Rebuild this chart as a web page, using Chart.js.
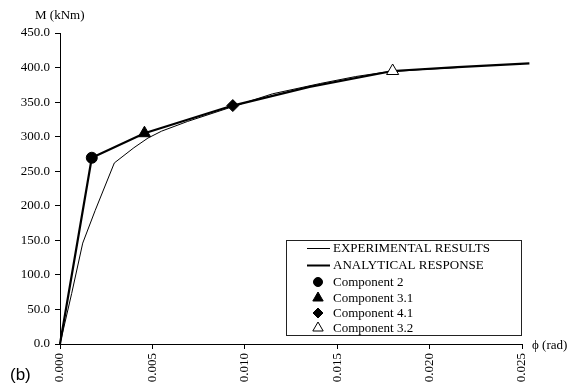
<!DOCTYPE html>
<html>
<head>
<meta charset="utf-8">
<title>Moment–curvature response</title>
<script src="https://cdn.jsdelivr.net/npm/chart.js@4/dist/chart.umd.min.js"></script>
<style>
  html, body { margin: 0; padding: 0; background: #fff; }
  #wrap { width: 581px; height: 388px; }
</style>
</head>
<body>
<div id="wrap"><canvas id="chart" width="581" height="388"></canvas></div>
<script>
// Experimental moment–curvature curve (φ in rad, M in kNm)
const expPhi = [0, 0.00063, 0.00123, 0.0019, 0.00294, 0.0040, 0.00476, 0.0055, 0.0069, 0.0093, 0.0115, 0.0141, 0.0160, 0.0175, 0.0195, 0.0215];
const expM   = [0, 73, 146, 193, 262, 284, 298, 308, 322, 343, 362, 377, 387, 393, 397, 400];

// Analytical response
const anaPhi = [0, 0.00172, 0.00457, 0.00935, 0.0135, 0.0180, 0.0215, 0.0254];
const anaM   = [0, 269.5, 305, 345, 372, 395, 400.5, 406];

// Component milestones on the analytical curve [φ, M]
const comp2  = [0.00172, 269.5];
const comp31 = [0.00457, 305];
const comp41 = [0.00935, 345];
const comp32 = [0.0180, 395];

// Axis ranges / ticks
const xTicks = [0, 0.005, 0.010, 0.015, 0.020, 0.025];
const yTicks = [0, 50, 100, 150, 200, 250, 300, 350, 400, 450];

const labels = {
  exp: 'EXPERIMENTAL RESULTS',
  ana: 'ANALYTICAL RESPONSE',
  c2: 'Component 2',
  c31: 'Component 3.1',
  c41: 'Component 4.1',
  c32: 'Component 3.2'
};

const toXY = (xs, ys) => xs.map((x, i) => ({ x, y: ys[i] }));
const SERIF = '"Liberation Serif", "Times New Roman", serif';

// small legend glyphs matching the plotted point styles
function marker(ctx, style, x, y, r, fill) {
  ctx.save();
  ctx.beginPath();
  if (style === 'circle') {
    ctx.arc(x, y, r, 0, Math.PI * 2);
  } else if (style === 'triangle') {
    ctx.moveTo(x, y - r);
    ctx.lineTo(x + r * 0.866, y + r * 0.5);
    ctx.lineTo(x - r * 0.866, y + r * 0.5);
    ctx.closePath();
  } else if (style === 'rectRot') {
    ctx.moveTo(x, y - r);
    ctx.lineTo(x + r, y);
    ctx.lineTo(x, y + r);
    ctx.lineTo(x - r, y);
    ctx.closePath();
  }
  ctx.fillStyle = fill;
  ctx.fill();
  ctx.lineWidth = 1;
  ctx.strokeStyle = '#000';
  ctx.stroke();
  ctx.restore();
}

const decor = {
  id: 'decor',
  afterDraw(chart) {
    const ctx = chart.ctx;
    ctx.save();
    ctx.fillStyle = '#000';
    ctx.font = '13px ' + SERIF;
    ctx.textBaseline = 'middle';
    ctx.textAlign = 'left';
    ctx.fillText('M (kNm)', 35, 16);
    ctx.fillText('\u03D5 (rad)', 532, 346);

    ctx.font = '17px "Liberation Sans", Arial, sans-serif';
    ctx.textBaseline = 'alphabetic';
    ctx.fillText('(b)', 10, 380);

    // legend box
    const bx = 286.5, by = 240.5, bw = 235, bh = 95;
    ctx.fillStyle = '#fff';
    ctx.fillRect(bx, by, bw, bh);
    ctx.strokeStyle = '#222';
    ctx.lineWidth = 1;
    ctx.strokeRect(bx, by, bw, bh);

    const rows = [
      { t: labels.exp, kind: 'line', w: 1, y: 248.5 },
      { t: labels.ana, kind: 'line', w: 2, y: 265.5 },
      { t: labels.c2, kind: 'circle', fill: '#000', r: 4.5, y: 282 },
      { t: labels.c31, kind: 'triangle', fill: '#000', r: 6, y: 298 },
      { t: labels.c41, kind: 'rectRot', fill: '#000', r: 5, y: 313 },
      { t: labels.c32, kind: 'triangle', fill: '#fff', r: 6, y: 328 }
    ];
    ctx.font = '13px ' + SERIF;
    ctx.textBaseline = 'middle';
    rows.forEach(row => {
      if (row.kind === 'line') {
        ctx.beginPath();
        ctx.lineWidth = row.w;
        ctx.strokeStyle = '#000';
        ctx.moveTo(307, row.y);
        ctx.lineTo(330, row.y);
        ctx.stroke();
      } else {
        marker(ctx, row.kind, 318, row.y, row.r, row.fill);
      }
      ctx.fillStyle = '#000';
      ctx.fillText(row.t, 333, row.y + 0.5);
    });
    ctx.restore();
  }
};

const pointSet = (label, pt, style, fill, r) => ({
  label,
  data: [{ x: pt[0], y: pt[1] }],
  showLine: false,
  pointStyle: style,
  pointRadius: r,
  pointBackgroundColor: fill,
  pointBorderColor: '#000',
  pointBorderWidth: 1,
  clip: false,
  order: 0
});

new Chart(document.getElementById('chart'), {
  type: 'scatter',
  data: {
    datasets: [
      pointSet(labels.c2, comp2, 'circle', '#000', 5.5),
      pointSet(labels.c31, comp31, 'triangle', '#000', 7),
      pointSet(labels.c41, comp41, 'rectRot', '#000', 6),
      pointSet(labels.c32, comp32, 'triangle', '#fff', 7),
      {
        label: labels.ana,
        data: toXY(anaPhi, anaM),
        showLine: true,
        borderColor: '#000',
        borderWidth: 2.2,
        pointRadius: 0,
        tension: 0,
        clip: false,
        order: 1
      },
      {
        label: labels.exp,
        data: toXY(expPhi, expM),
        showLine: true,
        borderColor: '#000',
        borderWidth: 1,
        pointRadius: 0,
        tension: 0,
        clip: false,
        order: 2
      }
    ]
  },
  options: {
    responsive: false,
    devicePixelRatio: 1,
    animation: false,
    events: [],
    layout: { padding: { top: 33, right: 59, left: 0, bottom: 0 } },
    plugins: { legend: { display: false }, tooltip: { enabled: false }, title: { display: false } },
    scales: {
      x: {
        type: 'linear',
        min: xTicks[0],
        max: xTicks[xTicks.length - 1],
        afterBuildTicks(scale) { scale.ticks = xTicks.map(v => ({ value: v })); },
        afterFit(scale) { scale.height = 44; },
        border: { display: true, color: '#000', width: 1 },
        grid: { display: true, drawOnChartArea: false, drawTicks: true, tickLength: 5, color: '#000' },
        ticks: {
          minRotation: 90, maxRotation: 90, padding: 4,
          color: '#000',
          font: { family: SERIF, size: 13 },
          callback: v => Number(v).toFixed(3)
        }
      },
      y: {
        type: 'linear',
        min: yTicks[0],
        max: yTicks[yTicks.length - 1],
        afterBuildTicks(scale) { scale.ticks = yTicks.map(v => ({ value: v })); },
        afterFit(scale) { scale.width = 60; },
        border: { display: true, color: '#000', width: 1 },
        grid: { display: true, drawOnChartArea: false, drawTicks: true, tickLength: 5, color: '#000' },
        ticks: {
          padding: 5,
          color: '#000',
          font: { family: SERIF, size: 13 },
          callback: v => Number(v).toFixed(1)
        }
      }
    }
  },
  plugins: [decor]
});
</script>
</body>
</html>
